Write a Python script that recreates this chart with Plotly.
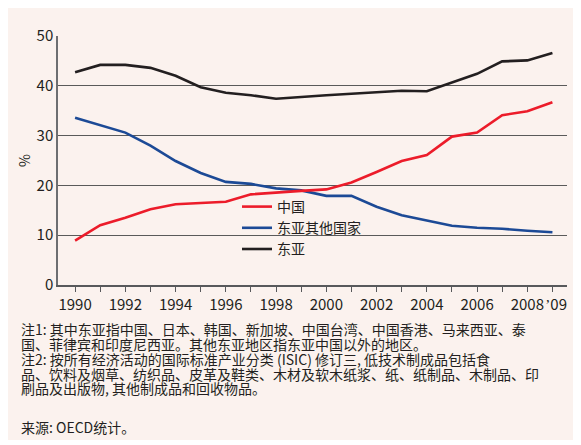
import plotly.graph_objects as go

years = list(range(1990, 2010))
china = [8.9, 12.0, 13.5, 15.2, 16.2, 16.4, 16.7, 18.2, 18.6, 18.9, 19.2, 20.6, 22.7, 24.9, 26.1, 29.8, 30.6, 34.1, 34.9, 36.7]
other_east_asia = [33.6, 32.1, 30.6, 28.0, 24.9, 22.5, 20.7, 20.3, 19.4, 19.0, 17.9, 17.9, 15.7, 14.0, 12.9, 11.9, 11.5, 11.3, 10.9, 10.6]
east_asia = [42.7, 44.2, 44.2, 43.6, 42.0, 39.7, 38.6, 38.1, 37.4, 37.8, 38.1, 38.4, 38.7, 39.0, 38.9, 40.6, 42.4, 44.9, 45.1, 46.6]
series_names = ["东亚", "东亚其他国家", "中国"]
series_colors = ["#231F20", "#1C4A96", "#EC1C2A"]
x_tick_labels = ["1990", "", "1992", "", "1994", "", "1996", "", "1998", "", "2000", "", "2002", "", "2004", "", "2006", "", "2008", "\u2002\u02bc09"]
y_ticks = [0, 10, 20, 30, 40, 50]
notes = [
    "注1: 其中东亚指中国、日本、韩国、新加坡、中国台湾、中国香港、马来西亚、泰",
    "国、菲律宾和印度尼西亚。其他东亚地区指东亚中国以外的地区。",
    "注2: 按所有经济活动的国际标准产业分类 (ISIC) 修订三, 低技术制成品包括食",
    "品、饮料及烟草、纺织品、皮革及鞋类、木材及软木纸浆、纸、纸制品、木制品、印",
    "刷品及出版物, 其他制成品和回收物品。",
]
source = "来源: OECD统计。"

FONT = "Noto Sans CJK SC"
OFF = 8  # page body margin offset
W, H = 581 - OFF, 445 - OFF
# target plot area in screen pixels: x 58..567, y 36..285
ML, MR, MT, MB = 58 - OFF, 581 - 567, 36 - OFF, 445 - 285
PW, PH = W - ML - MR, H - MT - MB

def px_x(x):
    return (x - OFF - ML) / PW

def px_y(y):
    return (H - MB - (y - OFF)) / PH

fig = go.Figure()
for name, vals, col in zip(series_names, [east_asia, other_east_asia, china], series_colors):
    fig.add_trace(go.Scatter(x=years, y=vals, mode="lines", name=name,
                             line=dict(color=col, width=2.6)))

fig.add_shape(type="rect", xref="paper", yref="paper",
              x0=px_x(8), x1=px_x(576), y0=px_y(440), y1=px_y(8),
              fillcolor="#FBF2EE", line=dict(width=0), layer="below")

annotations = []
note_y = [329, 344, 359, 373.5, 388]
for t, yy in zip(notes, note_y):
    annotations.append(dict(text=t, xref="paper", yref="paper", x=px_x(19), y=px_y(yy),
                            xanchor="left", yanchor="middle", showarrow=False,
                            font=dict(family=FONT, size=14, color="#231F20")))
annotations.append(dict(text=source, xref="paper", yref="paper", x=px_x(19), y=px_y(427),
                        xanchor="left", yanchor="middle", showarrow=False,
                        font=dict(family=FONT, size=14, color="#231F20")))

fig.update_layout(
    width=W, height=H,
    margin=dict(l=ML, r=MR, t=MT, b=MB, pad=0),
    paper_bgcolor="white",
    plot_bgcolor="rgba(0,0,0,0)",
    font=dict(family=FONT, size=15, color="#231F20"),
    showlegend=True,
    legend=dict(x=px_x(237), y=px_y(191), xanchor="left", yanchor="top",
                traceorder="reversed", bgcolor="rgba(0,0,0,0)",
                font=dict(family=FONT, size=14, color="#231F20"),
                itemwidth=30, tracegroupgap=0),
    annotations=annotations,
    xaxis=dict(range=[1989.32, 2009.58], tickvals=years, ticktext=x_tick_labels,
               ticks="outside", ticklen=5, tickwidth=1, tickcolor="#58595B",
               showline=True, linecolor="#58595B", linewidth=1.5,
               showgrid=False, zeroline=False,
               tickfont=dict(family=FONT, size=15, color="#231F20"), tickangle=0),
    yaxis=dict(range=[0, 50], tickvals=y_ticks, ticks="",
               showline=True, linecolor="#6D6E71", linewidth=1.5,
               showgrid=True, gridcolor="#5A5A5A", gridwidth=1, zeroline=False,
               tickfont=dict(family=FONT, size=15, color="#231F20"),
               title=dict(text="%", standoff=3, font=dict(family=FONT, size=14, color="#231F20"))),
)

fig.write_html("out.html")
